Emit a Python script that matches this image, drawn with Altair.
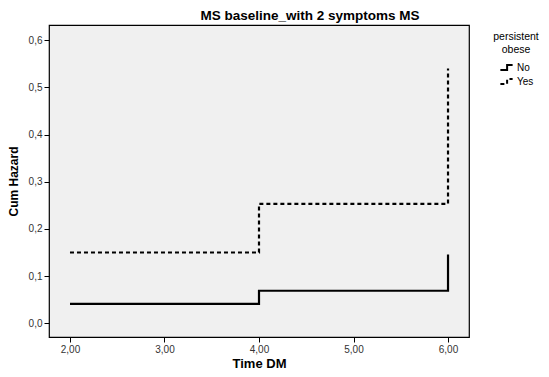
import altair as alt
import pandas as pd

time_no = [2, 4, 6]
haz_no = [0.041, 0.069, 0.146]
time_yes = [2, 4, 6]
haz_yes = [0.150, 0.253, 0.540]

df = pd.DataFrame({
    "time": time_no + time_yes,
    "haz": haz_no + haz_yes,
    "group": ["No"] * len(time_no) + ["Yes"] * len(time_yes),
})

FONT = "Liberation Sans"

chart = alt.Chart(df).mark_line(interpolate="step-after", strokeWidth=2.2, color="black").encode(
    x=alt.X("time:Q", scale=alt.Scale(domain=[1.778, 6.222], nice=False, zero=False),
            axis=alt.Axis(title="Time DM", values=[2, 3, 4, 5, 6],
                          labelExpr="replace(format(datum.value,'.2f'),'.',',')",
                          grid=False, tickSize=5, domain=False, tickColor="black",
                          labelFontSize=10, labelColor="#333333", labelFont=FONT,
                          titleFont=FONT, titleFontSize=13, titleFontWeight="bold",
                          titleColor="black", titlePadding=3)),
    y=alt.Y("haz:Q", scale=alt.Scale(domain=[-0.029, 0.632], nice=False, zero=False),
            axis=alt.Axis(title="Cum Hazard", values=[0, 0.1, 0.2, 0.3, 0.4, 0.5, 0.6],
                          labelExpr="replace(format(datum.value,'.1f'),'.',',')",
                          grid=False, tickSize=5, domain=False, tickColor="black",
                          labelFontSize=10, labelColor="#333333", labelFont=FONT,
                          titleFont=FONT, titleFontSize=12, titleFontWeight="bold",
                          titleColor="black", titlePadding=8)),
    strokeDash=alt.StrokeDash("group:N",
        scale=alt.Scale(domain=["No", "Yes"], range=[[1, 0], [4, 3]]),
        legend=alt.Legend(title=["persistent", "obese"], orient="none",
                          legendX=444, legendY=7,
                          titleFont=FONT, titleFontSize=10.5, titleFontWeight="normal",
                          titleColor="black", titleAlign="center", titleAnchor="middle",
                          labelFont=FONT, labelFontSize=10, labelColor="black",
                          symbolType="M-1,0.4H0.1V-0.4H1", symbolSize=150,
                          symbolStrokeWidth=2, symbolStrokeColor="black",
                          symbolFillColor="transparent", rowPadding=0, labelOffset=3)),
).properties(
    width=420, height=312,
    title=alt.TitleParams("MS baseline_with 2 symptoms MS", font=FONT, fontSize=13.5,
                          fontWeight="bold", color="black", anchor="middle", dx=51, offset=3),
    autosize=alt.AutoSizeParams(type="none"),
    padding={"left": 41, "top": 17, "right": 72, "bottom": 34},
).configure(background="white").configure_view(
    fill="#F0F0F0", stroke="black", strokeWidth=1.2
)

chart.save("out.html", embed_options={"renderer": "svg", "actions": False})
